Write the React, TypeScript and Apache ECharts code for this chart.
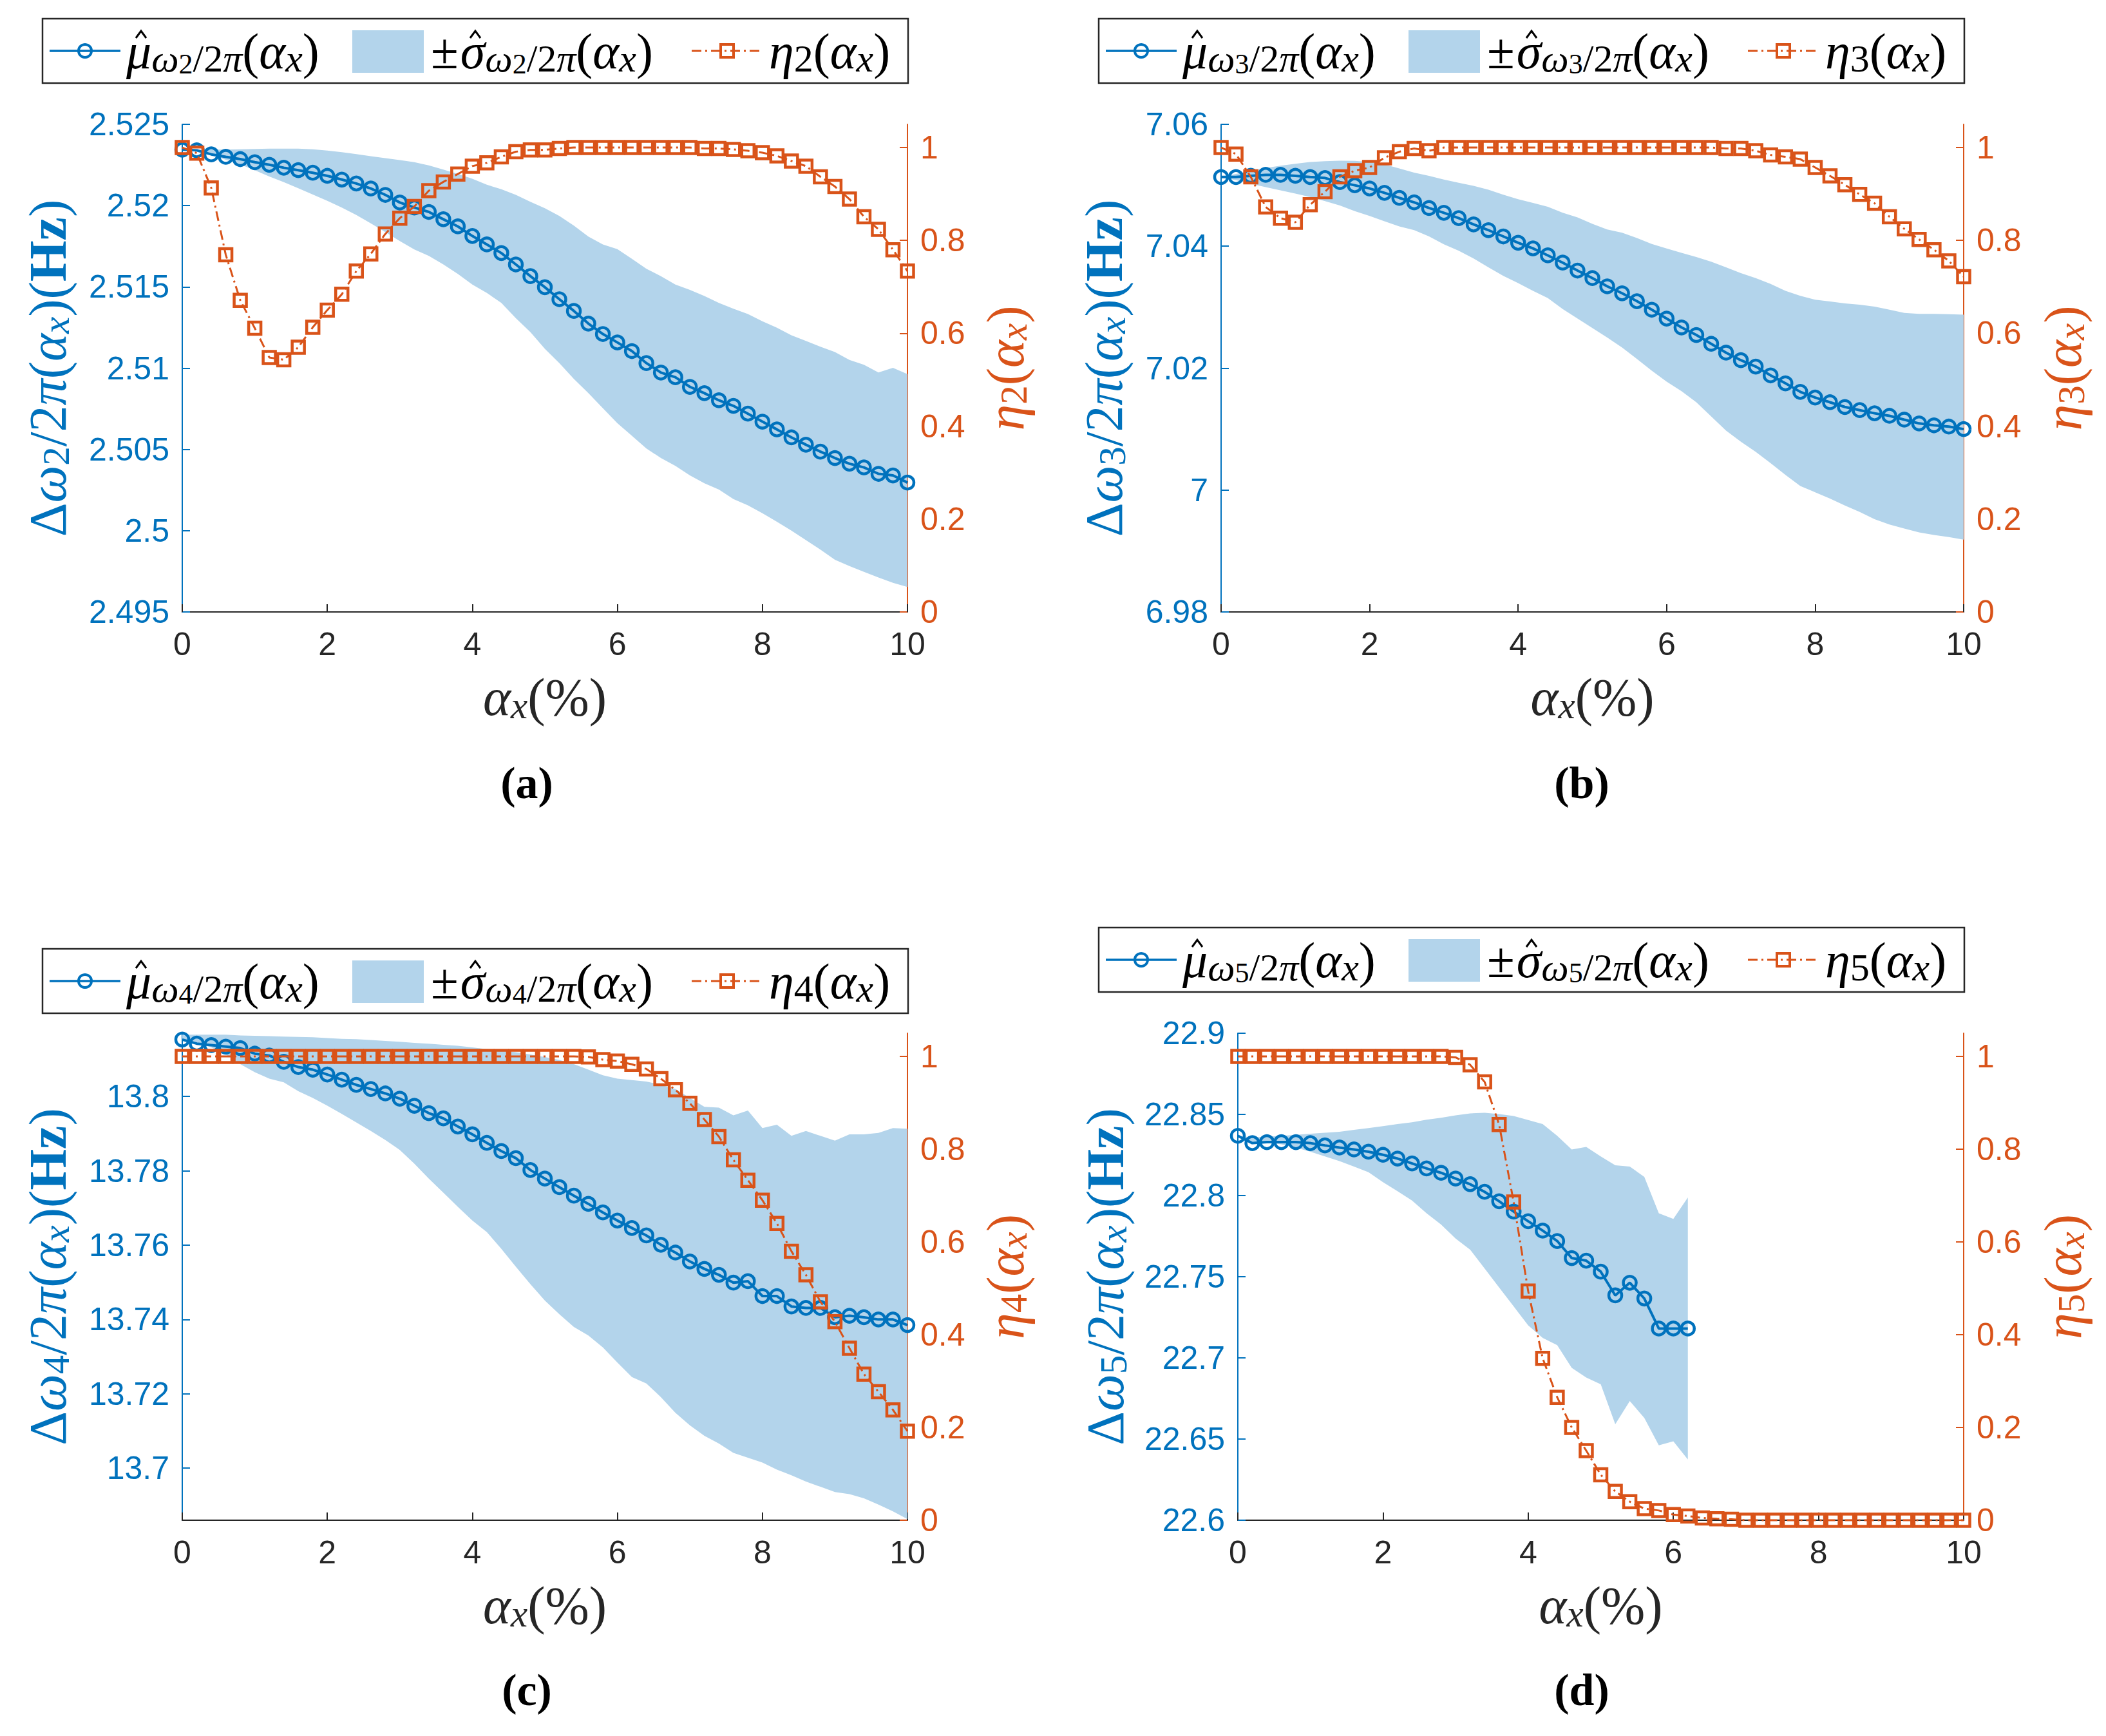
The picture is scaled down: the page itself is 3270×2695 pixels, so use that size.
import React, { useEffect, useRef } from 'react';
import * as echarts from 'echarts';

const BLUE = '#0072BD';
const ORANGE = '#D95319';
const BAND = '#B3D4EB';
const AXIS = '#262626';
const SANS = '"Liberation Sans", Arial, Helvetica, sans-serif';
const SERIF = '"Liberation Serif", "Times New Roman", serif';

// x grid: alpha_x (%) from 0 to 10 in steps of 0.2
const alpha = Array.from({ length: 51 }, (_, i) => Math.round(i * 2) / 10);

const xTicks = [0, 2, 4, 6, 8, 10];
const etaTicks = [0, 0.2, 0.4, 0.6, 0.8, 1];
const yTicks2 = [2.495, 2.5, 2.505, 2.51, 2.515, 2.52, 2.525];
const yTicks3 = [6.98, 7, 7.02, 7.04, 7.06];
const yTicks4 = [13.7, 13.72, 13.74, 13.76, 13.78, 13.8];
const yTicks5 = [22.6, 22.65, 22.7, 22.75, 22.8, 22.85, 22.9];

// ---------- mode 2 ----------
const mean2 = [2.52344, 2.5234, 2.52315, 2.523, 2.52286, 2.52267, 2.52251, 2.52233, 2.52218, 2.52202, 2.52183, 2.5216, 2.52136, 2.52105, 2.52066, 2.52019, 2.51988, 2.51961, 2.51916, 2.51872, 2.51813, 2.51761, 2.51708, 2.51638, 2.51566, 2.51498, 2.51424, 2.51352, 2.51274, 2.5121, 2.51158, 2.51105, 2.51031, 2.50973, 2.50944, 2.50885, 2.50846, 2.50802, 2.50768, 2.5072, 2.50671, 2.50623, 2.50574, 2.50529, 2.50486, 2.50447, 2.50412, 2.50389, 2.5035, 2.5034, 2.50296];
const upper2 = [2.52344, 2.52344, 2.52344, 2.52344, 2.52346, 2.52348, 2.5235, 2.5235, 2.5235, 2.52346, 2.52339, 2.52329, 2.52317, 2.52304, 2.52292, 2.5228, 2.52267, 2.52247, 2.52222, 2.52195, 2.52165, 2.52128, 2.52101, 2.52066, 2.52023, 2.51984, 2.51936, 2.51877, 2.51809, 2.51761, 2.51732, 2.51673, 2.51611, 2.51566, 2.51514, 2.51482, 2.51444, 2.51401, 2.51366, 2.51333, 2.51288, 2.51249, 2.51202, 2.51167, 2.51132, 2.51099, 2.51051, 2.51021, 2.50973, 2.51002, 2.50963];
const lower2 = [2.52344, 2.52331, 2.52311, 2.52282, 2.52253, 2.52218, 2.52179, 2.52144, 2.52107, 2.52068, 2.52029, 2.51988, 2.51942, 2.51891, 2.51837, 2.51782, 2.5173, 2.51691, 2.51638, 2.5158, 2.51514, 2.51463, 2.51401, 2.51307, 2.51222, 2.51119, 2.51031, 2.50934, 2.50846, 2.50753, 2.50661, 2.50584, 2.50506, 2.50447, 2.50399, 2.5034, 2.50292, 2.50253, 2.50195, 2.50156, 2.50107, 2.50055, 2.5, 2.49942, 2.49883, 2.49821, 2.49782, 2.49747, 2.49712, 2.49679, 2.49654];
const eta2 = [1, 0.988, 0.913, 0.769, 0.671, 0.611, 0.548, 0.543, 0.57, 0.613, 0.65, 0.684, 0.734, 0.771, 0.814, 0.848, 0.873, 0.907, 0.926, 0.943, 0.96, 0.967, 0.98, 0.991, 0.995, 0.995, 0.998, 1, 1, 1, 1, 1, 1, 1, 1, 1, 0.998, 0.998, 0.996, 0.993, 0.989, 0.982, 0.971, 0.96, 0.937, 0.916, 0.889, 0.851, 0.824, 0.78, 0.734];

// ---------- mode 3 ----------
const mean3 = [7.05135, 7.05135, 7.05155, 7.05171, 7.05171, 7.05155, 7.05135, 7.05119, 7.05052, 7.05, 7.04948, 7.04876, 7.04793, 7.0472, 7.04627, 7.04549, 7.04461, 7.04358, 7.04264, 7.04161, 7.04057, 7.03964, 7.0385, 7.03731, 7.03601, 7.03477, 7.03342, 7.03228, 7.03098, 7.02959, 7.02813, 7.02668, 7.02544, 7.02399, 7.02254, 7.0213, 7.02026, 7.01881, 7.01751, 7.01611, 7.01518, 7.0144, 7.01363, 7.01311, 7.01259, 7.01218, 7.01155, 7.01093, 7.01062, 7.01041, 7.01];
const upper3 = [7.05135, 7.05187, 7.05238, 7.05285, 7.05321, 7.05352, 7.05383, 7.05394, 7.05404, 7.05399, 7.05383, 7.05342, 7.05275, 7.05207, 7.05155, 7.05093, 7.05041, 7.0499, 7.04927, 7.04845, 7.04772, 7.0471, 7.04648, 7.04549, 7.04472, 7.04368, 7.04275, 7.04223, 7.04135, 7.04036, 7.03964, 7.03891, 7.03824, 7.03746, 7.03653, 7.0356, 7.03477, 7.03383, 7.03269, 7.03187, 7.03124, 7.03093, 7.03062, 7.03041, 7.0301, 7.02959, 7.02907, 7.02891, 7.02891, 7.02886, 7.02876];
const lower3 = [7.05135, 7.05083, 7.05026, 7.04969, 7.04917, 7.04865, 7.04808, 7.04741, 7.04668, 7.04575, 7.04497, 7.04409, 7.04326, 7.04264, 7.04161, 7.04031, 7.03927, 7.03798, 7.03653, 7.03513, 7.03394, 7.03269, 7.0315, 7.02969, 7.02813, 7.02658, 7.02503, 7.02337, 7.0215, 7.01959, 7.01777, 7.01622, 7.0144, 7.01207, 7.00974, 7.00793, 7.00627, 7.0044, 7.00249, 7.00067, 6.99964, 6.9986, 6.99746, 6.99642, 6.99523, 6.99435, 6.99368, 6.99306, 6.99264, 6.99228, 6.99187];
const eta3 = [1, 0.986, 0.937, 0.872, 0.848, 0.839, 0.877, 0.905, 0.937, 0.95, 0.957, 0.978, 0.991, 0.998, 0.993, 1, 1, 1, 1, 1, 1, 1, 1, 1, 1, 1, 1, 1, 1, 1, 1, 1, 1, 1, 0.998, 0.998, 0.993, 0.984, 0.98, 0.975, 0.957, 0.939, 0.92, 0.899, 0.88, 0.851, 0.825, 0.802, 0.78, 0.756, 0.722];

// ---------- mode 4 ----------
const mean4 = [13.8153, 13.8142, 13.8138, 13.8134, 13.813, 13.8115, 13.811, 13.8093, 13.8079, 13.8072, 13.8059, 13.8045, 13.8031, 13.802, 13.8008, 13.7994, 13.7975, 13.7955, 13.7941, 13.7919, 13.7898, 13.7875, 13.7853, 13.7834, 13.7802, 13.7779, 13.7756, 13.7733, 13.7711, 13.7688, 13.7666, 13.7646, 13.7626, 13.7601, 13.758, 13.7556, 13.7536, 13.752, 13.7499, 13.7503, 13.7463, 13.7463, 13.7435, 13.7431, 13.7431, 13.7406, 13.741, 13.7406, 13.74, 13.74, 13.7385];
const upper4 = [13.8166, 13.8166, 13.8166, 13.8166, 13.8164, 13.8163, 13.8162, 13.8161, 13.816, 13.8159, 13.8157, 13.8155, 13.8154, 13.8152, 13.8149, 13.8147, 13.8144, 13.8142, 13.8139, 13.8136, 13.8132, 13.8127, 13.8123, 13.8119, 13.8113, 13.8106, 13.8098, 13.8087, 13.8072, 13.8057, 13.8048, 13.8044, 13.804, 13.8031, 13.802, 13.7996, 13.7972, 13.797, 13.7949, 13.7962, 13.7915, 13.7924, 13.7894, 13.7907, 13.7894, 13.7881, 13.7898, 13.7898, 13.7902, 13.7915, 13.7913];
const lower4 = [13.8153, 13.8144, 13.8132, 13.8113, 13.8087, 13.8065, 13.8048, 13.8038, 13.8014, 13.7996, 13.7975, 13.7953, 13.793, 13.7907, 13.7883, 13.7856, 13.7819, 13.7779, 13.7741, 13.7703, 13.7666, 13.7635, 13.759, 13.7542, 13.7495, 13.7451, 13.7414, 13.738, 13.7357, 13.7325, 13.7284, 13.7245, 13.7228, 13.7191, 13.7149, 13.7115, 13.7087, 13.7066, 13.7041, 13.7028, 13.7015, 13.6996, 13.6981, 13.6964, 13.695, 13.6936, 13.693, 13.6919, 13.6902, 13.6884, 13.6863];
const eta4 = [1, 1, 1, 1, 1, 1, 1, 1, 1, 1, 1, 1, 1, 1, 1, 1, 1, 1, 1, 1, 1, 1, 1, 1, 1, 1, 1, 1, 0.999, 0.993, 0.99, 0.983, 0.973, 0.952, 0.928, 0.899, 0.864, 0.827, 0.777, 0.733, 0.69, 0.64, 0.58, 0.529, 0.471, 0.428, 0.371, 0.315, 0.277, 0.238, 0.192];

// ---------- mode 5 (mean / band only up to 6.2 %) ----------
const mean5 = [22.8368, 22.8323, 22.8329, 22.8329, 22.8329, 22.8323, 22.8309, 22.8296, 22.8284, 22.827, 22.8251, 22.8228, 22.8198, 22.8167, 22.814, 22.8105, 22.807, 22.8023, 22.7965, 22.7901, 22.7842, 22.7784, 22.772, 22.7615, 22.7599, 22.7531, 22.7385, 22.7463, 22.7366, 22.7181, 22.7181, 22.7181];
const upper5 = [22.8368, 22.8358, 22.8362, 22.8368, 22.8374, 22.8381, 22.8387, 22.8393, 22.8405, 22.8416, 22.8428, 22.844, 22.8451, 22.8467, 22.8479, 22.8494, 22.8506, 22.851, 22.8502, 22.849, 22.8465, 22.844, 22.8368, 22.8284, 22.83, 22.8241, 22.8187, 22.8179, 22.8115, 22.7891, 22.7856, 22.7988];
const lower5 = [22.8368, 22.8332, 22.8325, 22.8315, 22.8296, 22.827, 22.8241, 22.8212, 22.8179, 22.8144, 22.8082, 22.8027, 22.7969, 22.7891, 22.7821, 22.7735, 22.7667, 22.7551, 22.7434, 22.7317, 22.72, 22.7123, 22.7078, 22.6938, 22.6879, 22.6837, 22.6591, 22.6734, 22.663, 22.6461, 22.6486, 22.6374];
const eta5 = [1, 1, 1, 1, 1, 1, 1, 1, 1, 1, 1, 1, 1, 1, 1, 0.998, 0.982, 0.945, 0.853, 0.686, 0.494, 0.349, 0.265, 0.2, 0.15, 0.098, 0.062, 0.04, 0.025, 0.021, 0.012, 0.009, 0.005, 0.003, 0.002, 0, 0, 0, 0, 0, 0, 0, 0, 0, 0, 0, 0, 0, 0, 0, 0];

const panelData = [
  { k: 2, mean: mean2, upper: upper2, lower: lower2, eta: eta2, yMin: 2.495, yMax: 2.525, yTicks: yTicks2, caption: '(a)' },
  { k: 3, mean: mean3, upper: upper3, lower: lower3, eta: eta3, yMin: 6.98, yMax: 7.06, yTicks: yTicks3, caption: '(b)' },
  { k: 4, mean: mean4, upper: upper4, lower: lower4, eta: eta4, yMin: 13.686, yMax: 13.817, yTicks: yTicks4, caption: '(c)' },
  { k: 5, mean: mean5, upper: upper5, lower: lower5, eta: eta5, yMin: 22.6, yMax: 22.9, yTicks: yTicks5, caption: '(d)' },
];

// layout (pixels)
const layouts = [
  { grid: { left: 283, top: 193, width: 1126, height: 757 }, legend: [66, 29], yGap: 167, etaGap: 110, cap: [818, 1215] },
  { grid: { left: 1896, top: 193, width: 1153, height: 757 }, legend: [1706, 29], yGap: 140, etaGap: 112, cap: [2456, 1215] },
  { grid: { left: 283, top: 1604, width: 1126, height: 756 }, legend: [66, 1473], yGap: 167, etaGap: 110, cap: [818, 2623] },
  { grid: { left: 1922, top: 1604, width: 1127, height: 756 }, legend: [1706, 1440], yGap: 164, etaGap: 112, cap: [2456, 2623] },
];

function rich(color: string, F = 82, subRatio = 0.72) {
  const LH = 84;
  const S = Math.round(F * subRatio);
  const SS = Math.round(F * subRatio * 0.74);
  const base: any = { fontFamily: SERIF, color, fill: color, lineHeight: LH };
  return {
    r: { ...base, fontSize: F },
    pm: { ...base, fontSize: F, padding: [0, 3, 0, 6] },
    i: { ...base, fontSize: F, fontStyle: 'italic' },
    b: { ...base, fontSize: F, fontWeight: 'bold' },
    s: { ...base, fontSize: S, fontStyle: 'italic', lineHeight: S, padding: [LH - S, 0, 0, 0] },
    sr: { ...base, fontSize: S, lineHeight: S, padding: [LH - S, 0, 0, 0] },
    ss: { ...base, fontSize: SS, lineHeight: SS, padding: [LH - SS, 0, 0, 0] },
  };
}

function hat(cx: number, cy: number) {
  return {
    type: 'polyline', silent: true,
    shape: { points: [[cx - 8, cy - 20], [cx, cy - 31], [cx + 8, cy - 20]] },
    style: { stroke: '#000', lineWidth: 3, fill: 'none' },
  };
}

function legendGraphics(bx: number, by: number, k: number) {
  const cy = by + 50;
  const LF = 78;
  const rs = rich('#000000', LF, 0.77);
  const t1 = `{i|\u03BC}{s|\u03C9}{ss|${k}}{sr|/2}{s|\u03C0}{r|(}{i|\u03B1}{s|x}{r|)}`;
  const t2 = `{pm|\u00B1}{i|\u03C3}{s|\u03C9}{ss|${k}}{sr|/2}{s|\u03C0}{r|(}{i|\u03B1}{s|x}{r|)}`;
  const t3 = `{i|\u03B7}{sr|${k}}{r|(}{i|\u03B1}{s|x}{r|)}`;
  const txt = (x: number, text: string) => ({
    type: 'text',
    style: { x, y: cy, text, rich: rs, fill: '#000', fontFamily: SERIF, fontSize: LF, align: 'left', textAlign: 'left', verticalAlign: 'middle', textVerticalAlign: 'middle' },
    silent: true,
  });
  return [
    { type: 'rect', shape: { x: bx, y: by, width: 1344, height: 100 }, style: { fill: '#ffffff', stroke: AXIS, lineWidth: 2.5 }, silent: true },
    { type: 'line', shape: { x1: bx + 11, y1: cy, x2: bx + 121, y2: cy }, style: { stroke: BLUE, lineWidth: 3.5 }, silent: true },
    { type: 'circle', shape: { cx: bx + 66, cy, r: 10 }, style: { fill: 'none', stroke: BLUE, lineWidth: 4 }, silent: true },
    txt(bx + 130, t1),
    hat(bx + 130 + 23, cy),
    { type: 'rect', shape: { x: bx + 481, y: by + 18, width: 111, height: 66 }, style: { fill: BAND }, silent: true },
    txt(bx + 597, t2),
    hat(bx + 597 + 53 + 22, cy),
    { type: 'line', shape: { x1: bx + 1008, y1: cy, x2: bx + 1118, y2: cy }, style: { stroke: ORANGE, lineWidth: 3, lineDash: [15, 6, 3, 6] }, silent: true },
    { type: 'rect', shape: { x: bx + 1053, y: cy - 10, width: 20, height: 20 }, style: { fill: 'none', stroke: ORANGE, lineWidth: 4 }, silent: true },
    txt(bx + 1128, t3),
  ];
}

function buildOption() {
  const grids: any[] = [];
  const xAxes: any[] = [];
  const yAxes: any[] = [];
  const series: any[] = [];
  const graphics: any[] = [];

  panelData.forEach((p, i) => {
    const L = layouts[i];
    grids.push({ ...L.grid, containLabel: false });
    xAxes.push({
      type: 'value', gridIndex: i, min: 0, max: 10, interval: 2,
      axisLine: { show: true, onZero: false, lineStyle: { color: AXIS, width: 2 } },
      axisTick: { show: true, inside: true, length: 12, lineStyle: { color: AXIS, width: 2 }, customValues: xTicks },
      axisLabel: { color: AXIS, fontSize: 50, fontFamily: SANS, margin: 25, customValues: xTicks },
      splitLine: { show: false },
      name: '{i|\u03B1}{s|x}{r|(%)}', nameLocation: 'middle', nameGap: 90,
      nameTextStyle: { rich: rich(AXIS) },
    });
    yAxes.push({
      type: 'value', gridIndex: i, position: 'left', min: p.yMin, max: p.yMax,
      axisLine: { show: true, onZero: false, lineStyle: { color: BLUE, width: 2 } },
      axisTick: { show: true, inside: true, length: 12, lineStyle: { color: BLUE, width: 2 }, customValues: p.yTicks },
      axisLabel: { color: BLUE, fontSize: 50, fontFamily: SANS, margin: 20, customValues: p.yTicks },
      splitLine: { show: false },
      name: `{r|\u0394}{i|\u03C9}{sr|${p.k}}{r|/2}{i|\u03C0}{r|(}{i|\u03B1}{s|x}{r|)(}{b|Hz}{r|)}`,
      nameLocation: 'middle', nameRotate: 90, nameGap: L.yGap,
      nameTextStyle: { rich: rich(BLUE) },
    });
    yAxes.push({
      type: 'value', gridIndex: i, position: 'right', min: 0, max: 1.05,
      axisLine: { show: true, onZero: false, lineStyle: { color: ORANGE, width: 2 } },
      axisTick: { show: true, inside: true, length: 12, lineStyle: { color: ORANGE, width: 2 }, customValues: etaTicks },
      axisLabel: { color: ORANGE, fontSize: 50, fontFamily: SANS, margin: 20, customValues: etaTicks },
      splitLine: { show: false },
      name: `{i|\u03B7}{sr|${p.k}}{r|(}{i|\u03B1}{s|x}{r|)}`,
      nameLocation: 'middle', nameRotate: 90, nameGap: L.etaGap,
      nameTextStyle: { rich: rich(ORANGE) },
    });

    const n = p.mean.length;
    const up = p.upper;
    const lo = p.lower;
    series.push({
      type: 'custom', name: `band${p.k}`, xAxisIndex: i, yAxisIndex: 2 * i,
      data: alpha.slice(0, n).map((x, j) => [x, lo[j], up[j]]),
      encode: { x: 0, y: [1, 2] },
      silent: true, z: 1,
      renderItem: (params: any, api: any) => {
        if (params.dataIndex !== 0) return null;
        const pts: number[][] = [];
        for (let j = 0; j < n; j++) pts.push(api.coord([alpha[j], up[j]]));
        for (let j = n - 1; j >= 0; j--) pts.push(api.coord([alpha[j], lo[j]]));
        return { type: 'polygon', shape: { points: pts }, style: { fill: BAND, stroke: 'none' } };
      },
    });
    series.push({
      type: 'line', name: `mean${p.k}`, xAxisIndex: i, yAxisIndex: 2 * i,
      data: p.mean.map((v, j) => [alpha[j], v]),
      symbol: 'circle', symbolSize: 20, showSymbol: true, clip: false, silent: true, z: 3,
      lineStyle: { color: BLUE, width: 4 },
      itemStyle: { color: 'rgba(0,0,0,0)', borderColor: BLUE, borderWidth: 4.5 },
      emphasis: { disabled: true },
    });
    series.push({
      type: 'line', name: `eta${p.k}`, xAxisIndex: i, yAxisIndex: 2 * i + 1,
      data: p.eta.map((v, j) => [alpha[j], v]),
      symbol: 'rect', symbolSize: 19, showSymbol: true, clip: false, silent: true, z: 4,
      lineStyle: { color: ORANGE, width: 3, type: [15, 6, 3, 6] },
      itemStyle: { color: 'rgba(0,0,0,0)', borderColor: ORANGE, borderWidth: 4.5 },
      emphasis: { disabled: true },
    });

    graphics.push(...legendGraphics(L.legend[0], L.legend[1], p.k));
    graphics.push({
      type: 'text', silent: true,
      style: { x: L.cap[0], y: L.cap[1], text: p.caption, fill: '#000', fontFamily: SERIF, fontSize: 70, fontWeight: 'bold', align: 'center', textAlign: 'center', verticalAlign: 'middle', textVerticalAlign: 'middle' },
    });
  });

  return {
    animation: false,
    backgroundColor: '#ffffff',
    grid: grids,
    xAxis: xAxes,
    yAxis: yAxes,
    series,
    graphic: { elements: graphics },
  };
}

export default function App() {
  const ref = useRef<HTMLDivElement>(null);
  useEffect(() => {
    document.body.style.margin = '0';
    if (!ref.current) return;
    const chart = echarts.init(ref.current, undefined, { renderer: 'svg' });
    chart.setOption(buildOption() as any);
    return () => chart.dispose();
  }, []);
  return <div ref={ref} style={{ width: 3270, height: 2695, background: '#fff' }} />;
}
